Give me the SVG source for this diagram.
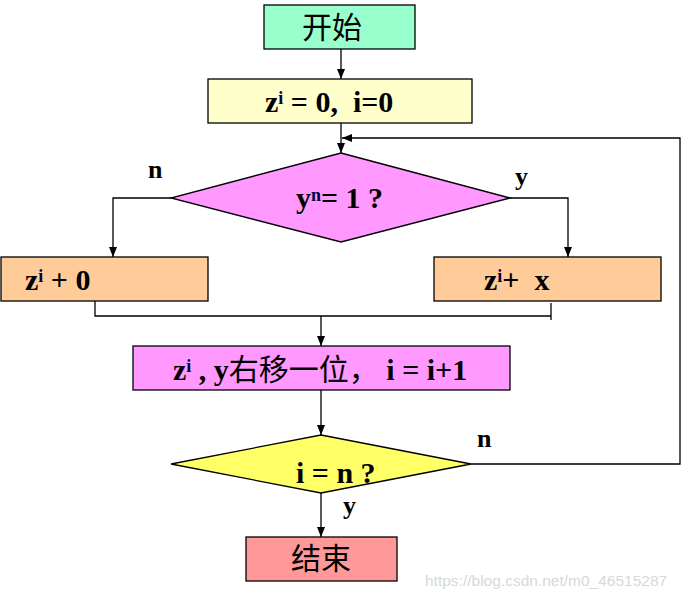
<svg xmlns="http://www.w3.org/2000/svg" width="681" height="599" viewBox="0 0 681 599">
<defs>
<marker id="arr" viewBox="0 0 10 8" refX="10" refY="4" markerWidth="10" markerHeight="8" markerUnits="userSpaceOnUse" orient="auto">
<path d="M0,0 L10,4 L0,8 Z" fill="#000"/>
</marker>
<style>
.box{stroke:#000;stroke-width:1.3}
.ln{fill:none;stroke:#000;stroke-width:1.3}
.t{font-family:"Liberation Serif","Noto Sans CJK SC",serif;font-weight:bold;font-size:30px;fill:#000}
.cj{font-family:"Noto Sans CJK SC",serif;font-weight:normal;font-size:30px;fill:#000}
.sup{font-size:18px;fill:#000040}
.lbl{font-family:"Liberation Serif",serif;font-weight:bold;font-size:26px;fill:#000}
.wm{font-family:"Liberation Sans",sans-serif;font-size:15.5px;fill:#d8d8d8}
</style>
</defs>
<g id="start">
<rect class="box" x="264" y="5" width="151" height="44" fill="#99FFCC"/>
<text class="cj" x="332" y="38" text-anchor="middle">开始</text>
</g>
<g id="init">
<rect class="box" x="208" y="79" width="264" height="44" fill="#FFFFCC"/>
<text class="t" x="265" y="112" xml:space="preserve">z<tspan class="sup" dy="-8">i</tspan><tspan dy="8"> = 0,  i=0</tspan></text>
</g>
<g id="cond1">
<polygon class="box" points="341,153 510,198 341,242 171,198" fill="#FF99FF"/>
<text class="t" x="296" y="208">y<tspan class="sup" dy="-7">n</tspan><tspan dy="7">= 1 ?</tspan></text>
</g>
<g id="addzero">
<rect class="box" x="1" y="257" width="207" height="44" fill="#FFCC99"/>
<text class="t" x="25" y="290">z<tspan class="sup" dy="-8">i</tspan><tspan dy="8"> + 0</tspan></text>
</g>
<g id="addx">
<rect class="box" x="434" y="257" width="227" height="44" fill="#FFCC99"/>
<text class="t" x="484" y="290" xml:space="preserve">z<tspan class="sup" dy="-8">i</tspan><tspan dy="8">+  x</tspan></text>
</g>
<g id="shift">
<rect class="box" x="133" y="346" width="377" height="44" fill="#FF99FF"/>
<text class="t" x="173" y="380" xml:space="preserve">z<tspan class="sup" dy="-8">i</tspan><tspan dy="8"> , y</tspan><tspan class="cj">右移一位，</tspan><tspan> i = i+1</tspan></text>
</g>
<g id="cond2">
<polygon class="box" points="321,435 471,464 321,493 171,464" fill="#FFFF66"/>
<text class="t" x="296" y="483">i = n ?</text>
</g>
<g id="end">
<rect class="box" x="246" y="537" width="151" height="44" fill="#FF9999"/>
<text class="cj" x="321" y="569" text-anchor="middle">结束</text>
</g>
<g id="connectors">
<line class="ln" x1="341" y1="49" x2="341" y2="79" marker-end="url(#arr)"/>
<line class="ln" x1="341" y1="123" x2="341" y2="153" marker-end="url(#arr)"/>
<polyline class="ln" points="171,198 113,198 113,257" marker-end="url(#arr)"/>
<polyline class="ln" points="510,198 568,198 568,257" marker-end="url(#arr)"/>
<polyline class="ln" points="95,301 95,316 551,316"/>
<line class="ln" x1="551" y1="303" x2="551" y2="320"/>
<line class="ln" x1="321" y1="316" x2="321" y2="346" marker-end="url(#arr)"/>
<line class="ln" x1="321" y1="390" x2="321" y2="435" marker-end="url(#arr)"/>
<polyline class="ln" points="471,464 680,464 680,138 342,138" marker-end="url(#arr)"/>
<line class="ln" x1="321" y1="493" x2="321" y2="537" marker-end="url(#arr)"/>
<text class="lbl" x="148" y="178">n</text>
<text class="lbl" x="515" y="185">y</text>
<text class="lbl" x="477" y="447">n</text>
<text class="lbl" x="343" y="514">y</text>
</g>
<text class="wm" x="425" y="586">https://blog.csdn.net/m0_46515287</text>
</svg>
